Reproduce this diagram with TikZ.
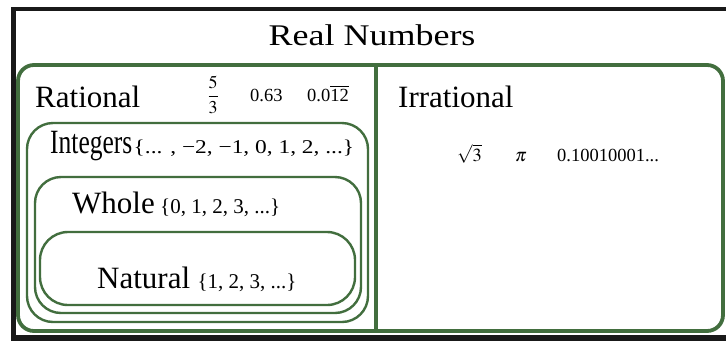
\documentclass[tikz,border=0pt]{standalone}
\usepackage{amsmath}
\usepackage{mathptmx}
\usepackage{fontspec}
\setmainfont{Liberation Serif}
\newfontfamily\widefont[FakeStretch=1.2]{Liberation Serif}
\newfontfamily\narrowfont[FakeStretch=0.75]{Liberation Serif}
\usetikzlibrary{positioning}
\definecolor{setgreen}{RGB}{66,110,62}

\begin{document}
\begin{tikzpicture}[x=1pt, y=-1pt,
    setbox/.style={draw=setgreen, line width=2.4pt, rounded corners=26pt, inner sep=0pt},
    lbl/.style={anchor=base west, inner sep=0pt, font=\fontsize{31}{31}\selectfont},
    members/.style={anchor=base west, inner sep=0pt, font=\fontsize{21}{21}\selectfont},
    vals/.style={anchor=base west, inner sep=0pt, font=\fontsize{18.5}{18.5}\selectfont}]
  \useasboundingbox (0,0) rectangle (726,341);
  % black frame of the screenshot
  \fill[black!90] (11,7) rectangle (726,341);
  \fill[white] (16,10.5) rectangle (726,335);

  \node[anchor=base, inner sep=0pt, font=\widefont\fontsize{30}{30}\selectfont] (title) at (372,45) {Real Numbers};

  % the sets
  \node[setbox, line width=3.8pt, rounded corners=16pt, minimum width=705pt, minimum height=266pt] (reals) at (370.5,198) {};
  \coordinate (cut) at (376,0);
  \draw[setgreen, line width=3.8pt] (reals.north -| cut) -- (reals.south -| cut);
  \node[setbox, minimum width=341pt, minimum height=199pt] (ints) at (197.5,222.5) {};
  \node[setbox, minimum width=326pt, minimum height=136pt] (whole) at (198,245) {};
  \node[setbox, rounded corners=28pt, minimum width=315pt, minimum height=73pt] (nat) at (197.5,268.5) {};

  % names and members
  \node[lbl] (rat-lbl) at (35,107) {Rational};
  \node[vals, anchor=base, font=\fontsize{18}{18}\selectfont] (rat-a) at (213,101) {$\dfrac{5}{3}$};
  \node[vals] (rat-b) at (250,101) {0.63};
  \node[vals] (rat-c) at (307,101) {0.0$\overline{\mbox{12}}$};

  \node[lbl] (irr-lbl) at (398,107) {Irrational};
  \node[vals] (irr-a) at (457,161) {$\sqrt{3}$};
  \node[vals] (irr-b) at (515,161) {$\pi$};
  \node[vals] (irr-c) at (557,161) {0.10010001...};

  \node[lbl, font=\narrowfont\fontsize{34}{34}\selectfont] (int-lbl) at (50,153) {Integers};
  \node[members, font=\widefont\fontsize{19.5}{19.5}\selectfont, right=1pt of int-lbl.base east, anchor=base west] (int-set) {\{... , −2, −1, 0, 1, 2, ...\}};

  \node[lbl] (whole-lbl) at (72,213) {Whole};
  \node[members, right=5pt of whole-lbl.base east, anchor=base west] (whole-set) {\{0, 1, 2, 3, ...\}};

  \node[lbl] (nat-lbl) at (97,288) {Natural};
  \node[members, right=7pt of nat-lbl.base east, anchor=base west] (nat-set) {\{1, 2, 3, ...\}};
\end{tikzpicture}
\end{document}
